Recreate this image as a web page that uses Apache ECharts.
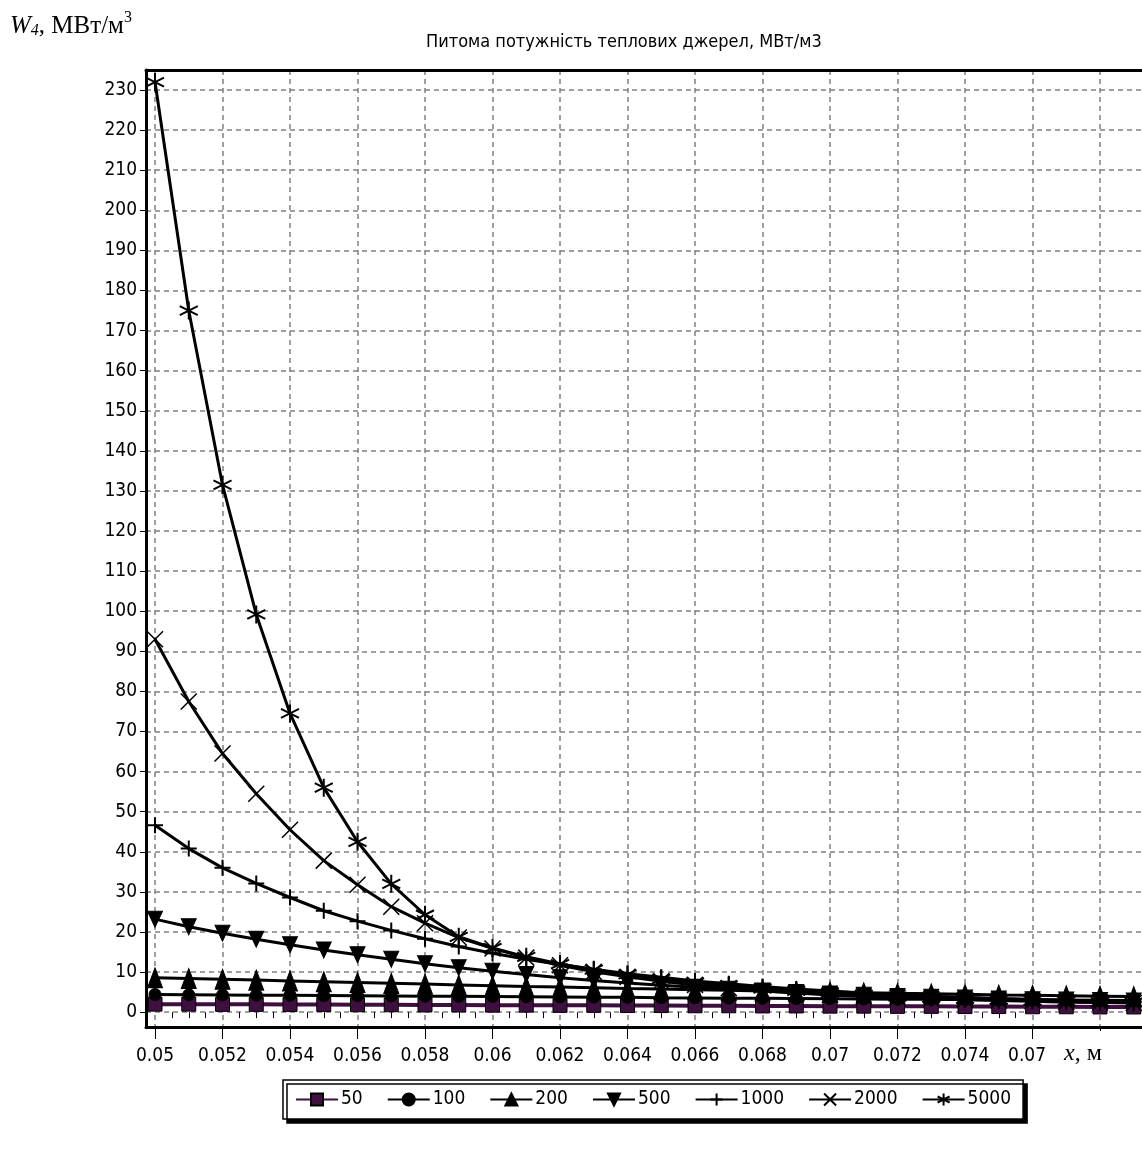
<!DOCTYPE html>
<html>
<head>
<meta charset="utf-8">
<script src="https://cdn.jsdelivr.net/npm/echarts@6/dist/echarts.min.js"></script>
<style>
  html, body { margin: 0; padding: 0; background: #fff; }
  #chart { width: 1142px; height: 1169px; }
</style>
</head>
<body>
<div id="chart"></div>
<script>
// coordinate, m
const xs = [0.05, 0.051, 0.052, 0.053, 0.054, 0.055, 0.056, 0.057, 0.058, 0.059,
            0.06, 0.061, 0.062, 0.063, 0.064, 0.065, 0.066, 0.067, 0.068, 0.069,
            0.07, 0.071, 0.072, 0.073, 0.074, 0.075, 0.076, 0.077, 0.078, 0.079];

// W4, MW/m3 for each case
const s50   = [2.0, 2.0, 1.95, 1.95, 1.9, 1.9, 1.85, 1.85, 1.8, 1.8, 1.75, 1.75, 1.7, 1.7, 1.65,
               1.65, 1.6, 1.6, 1.55, 1.55, 1.5, 1.5, 1.45, 1.45, 1.4, 1.4, 1.35, 1.35, 1.3, 1.3];
const s100  = [4.4, 4.35, 4.3, 4.25, 4.2, 4.15, 4.1, 4.05, 4.0, 3.95, 3.9, 3.85, 3.8, 3.75, 3.7,
               3.6, 3.55, 3.5, 3.45, 3.4, 3.35, 3.3, 3.25, 3.2, 3.15, 3.1, 3.05, 3.0, 2.95, 2.9];
const s200  = [8.6, 8.4, 8.2, 8.0, 7.8, 7.6, 7.4, 7.2, 7.0, 6.8, 6.6, 6.4, 6.25, 6.1, 5.9,
               5.75, 5.6, 5.45, 5.3, 5.15, 5.0, 4.85, 4.7, 4.6, 4.45, 4.3, 4.2, 4.1, 4.0, 3.9];
const s500  = [23.2, 21.3, 19.7, 18.2, 16.8, 15.5, 14.3, 13.2, 12.1, 11.1, 10.2, 9.4, 8.6, 7.9, 7.3,
               6.7, 6.2, 5.7, 5.3, 4.9, 4.5, 4.2, 3.9, 3.7, 3.5, 3.3, 3.1, 3.0, 2.9, 2.8];
const s1000 = [46.6, 40.8, 36.0, 32.1, 28.6, 25.3, 22.7, 20.4, 18.3, 16.4, 14.7, 13.2, 11.9, 10.7, 9.6,
               8.7, 7.8, 7.1, 6.4, 5.8, 5.3, 4.8, 4.4, 4.0, 3.7, 3.4, 3.2, 3.0, 2.8, 2.6];
const s2000 = [93, 77.5, 64.5, 54.5, 45.5, 37.8, 31.8, 26.3, 22.2, 18.6, 15.9, 13.6, 11.7, 10.1, 8.8,
               7.7, 6.8, 6.0, 5.3, 4.8, 4.3, 3.9, 3.6, 3.3, 3.1, 2.9, 2.7, 2.5, 2.4, 2.3];
const s5000 = [232, 175, 131.5, 99.2, 74.5, 56, 42.5, 32, 24.3, 18.8, 16.0, 13.8, 12.0, 10.6, 9.4,
               8.3, 7.4, 6.6, 5.9, 5.3, 4.8, 4.3, 3.9, 3.6, 3.3, 3.1, 2.9, 2.7, 2.5, 2.4];

// tick labels
const xTicks = [0.05, 0.052, 0.054, 0.056, 0.058, 0.06, 0.062, 0.064, 0.066, 0.068,
                0.07, 0.072, 0.074, 0.076, 0.078];
const xMinor = [0.0505, 0.051, 0.0515, 0.0525, 0.053, 0.0535, 0.0545, 0.055, 0.0555, 0.0565, 0.057, 0.0575,
                0.0585, 0.059, 0.0595, 0.0605, 0.061, 0.0615, 0.0625, 0.063, 0.0635, 0.0645, 0.065, 0.0655,
                0.0665, 0.067, 0.0675, 0.0685, 0.069, 0.0695, 0.0705, 0.071, 0.0715, 0.0725, 0.073, 0.0735,
                0.0745, 0.075, 0.0755];
const yTicks = [0, 10, 20, 30, 40, 50, 60, 70, 80, 90, 100, 110, 120, 130, 140, 150, 160,
                170, 180, 190, 200, 210, 220, 230];

const sans = "'DejaVu Sans Condensed', 'Liberation Sans', sans-serif";
const serif = "'Liberation Serif', 'DejaVu Serif', serif";

const plusPath = 'path://M0,-8 L0,8 M-8,0 L8,0';
const crossPath = 'path://M-8,-8 L8,8 M-8,8 L8,-8';
const starPath = 'path://M0,-9 L0,9 M-7.8,-4.5 L7.8,4.5 M-7.8,4.5 L7.8,-4.5';

const X_MIN = 0.049733, X_MAX = 0.079244;

function mk(name, vals, symbol, size, extra) {
  return Object.assign({
    name: name,
    type: 'line',
    data: xs.map((x, i) => [x, vals[i]]),
    symbol: symbol,
    symbolSize: size,
    showAllSymbol: true,
    clip: false,
    lineStyle: { color: '#000', width: 3 },
    itemStyle: { color: '#000', borderColor: '#000', borderWidth: 1 },
    emphasis: { disabled: true },
    animation: false
  }, extra || {});
}

const chart = echarts.init(document.getElementById('chart'));

chart.setOption({
  backgroundColor: '#fff',
  animation: false,
  grid: { left: 146, top: 70, right: 0, bottom: 142, show: false },
  xAxis: [{
    type: 'value', min: X_MIN, max: X_MAX,
    axisLine: { show: true, onZero: false, lineStyle: { color: '#000', width: 3 } },
    axisTick: { show: true, customValues: xTicks, length: 12, lineStyle: { color: '#000', width: 1 } },
    axisLabel: {
      customValues: xTicks, margin: 20, color: '#000', fontSize: 19, fontFamily: sans,
      formatter: v => String(+v.toFixed(3))
    },
    splitLine: { show: true, lineStyle: { color: '#808080', width: 1.5, type: [5, 4] } }
  }, {
    // minor ticks
    type: 'value', min: X_MIN, max: X_MAX, position: 'bottom',
    axisLine: { show: false },
    axisTick: { show: true, customValues: xMinor, length: 6, lineStyle: { color: '#000', width: 1 } },
    axisLabel: { show: false },
    splitLine: { show: false }
  }, {
    // top frame
    type: 'value', min: X_MIN, max: X_MAX, position: 'top',
    axisLine: { show: true, onZero: false, lineStyle: { color: '#000', width: 3 } },
    axisTick: { show: false }, axisLabel: { show: false }, splitLine: { show: false }
  }],
  yAxis: [{
    type: 'value', min: -3.7, max: 235,
    axisLine: { show: true, onZero: false, lineStyle: { color: '#000', width: 3 } },
    axisTick: { show: true, customValues: yTicks, length: 6, lineStyle: { color: '#000', width: 1 } },
    axisLabel: { customValues: yTicks, margin: 9, color: '#000', fontSize: 19, fontFamily: sans },
    splitLine: { show: true, lineStyle: { color: '#808080', width: 1.5, type: [5, 4] } }
  }],
  legend: {
    left: 283, top: 1080,
    padding: [10, 12],
    itemWidth: 42, itemHeight: 15, itemGap: 24,
    borderColor: '#000', borderWidth: 1.5,
    backgroundColor: '#fff',
    shadowColor: '#000', shadowBlur: 0, shadowOffsetX: 4, shadowOffsetY: 4,
    textStyle: { color: '#000', fontSize: 19, fontFamily: sans, padding: [0, 0, 0, -2] },
    data: ['50', '100', '200', '500', '1000', '2000', '5000']
  },
  series: [
    mk('50', s50, 'rect', 14, {
      lineStyle: { color: '#3f0f3f', width: 4 },
      itemStyle: { color: '#3f0f3f', borderColor: '#000', borderWidth: 1 }
    }),
    mk('100', s100, 'circle', 12),
    mk('200', s200, 'triangle', [15, 20]),
    mk('500', s500, 'triangle', [15, 16], { symbolRotate: 180 }),
    mk('1000', s1000, plusPath, 16, { itemStyle: { color: 'none', borderColor: '#000', borderWidth: 2 } }),
    mk('2000', s2000, crossPath, 16, { itemStyle: { color: 'none', borderColor: '#000', borderWidth: 1.5 } }),
    mk('5000', s5000, starPath, 18, { itemStyle: { color: 'none', borderColor: '#000', borderWidth: 2 } })
  ],
  graphic: [
    // title
    { type: 'text', left: 426, top: 33, z: 50, style: {
        text: 'Питома потужність теплових джерел, МВт/м3',
        fill: '#000', font: '18px ' + sans } },
    // y axis name
    { type: 'text', left: 10, top: 10, z: 50, style: {
        text: '{w|W}{s|4}{n|, МВт/м}{p|3}',
        rich: {
          w: { fontFamily: serif, fontStyle: 'italic', fontSize: 25, fill: '#000' },
          s: { fontFamily: serif, fontStyle: 'italic', fontSize: 16, fill: '#000', padding: [10, 0, 0, 0] },
          n: { fontFamily: serif, fontSize: 25, fill: '#000' },
          p: { fontFamily: serif, fontSize: 16, fill: '#000', padding: [0, 0, 16, 0] }
        } } },
    // cover + x axis name
    { type: 'rect', left: 1045, top: 1031, z: 60, shape: { width: 100, height: 50 }, style: { fill: '#fff' } },
    { type: 'text', left: 1064, top: 1042, z: 61, style: {
        text: '{i|x}{n|, м}',
        rich: {
          i: { fontFamily: serif, fontStyle: 'italic', fontSize: 24, fill: '#000' },
          n: { fontFamily: serif, fontSize: 24, fill: '#000' }
        } } }
  ]
});
</script>
</body>
</html>
